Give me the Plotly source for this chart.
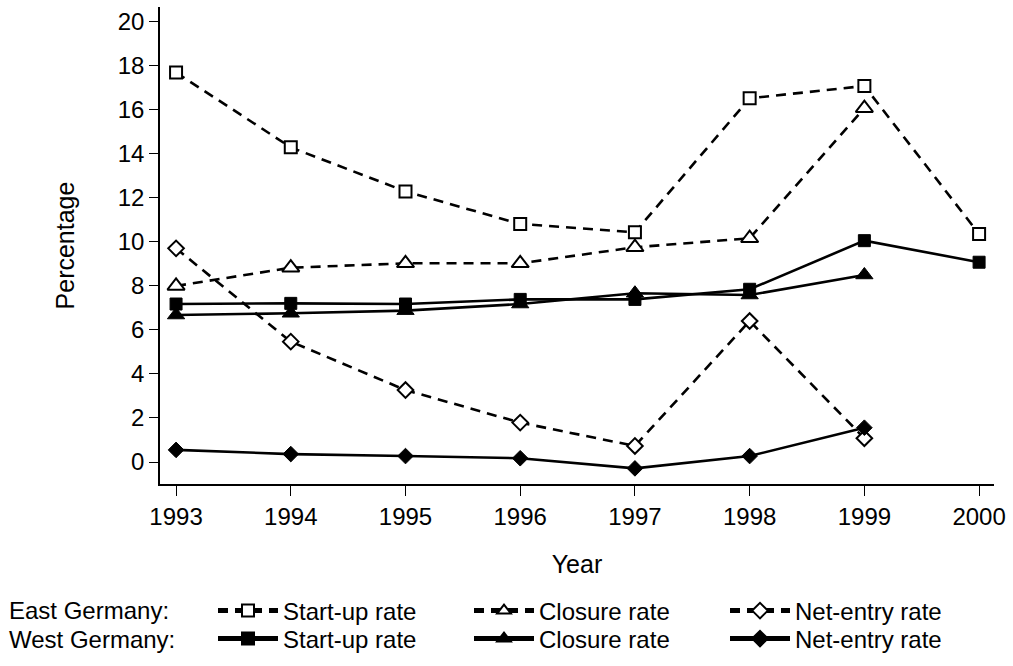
import plotly.graph_objects as go

years = [1993, 1994, 1995, 1996, 1997, 1998, 1999, 2000]

east_startup = [17.7, 14.3, 12.3, 10.82, 10.44, 16.53, 17.09, 10.36]
east_closure = [8.0, 8.83, 9.03, 9.03, 9.76, 10.17, 16.08, None]
east_netentry = [9.71, 5.47, 3.27, 1.79, 0.73, 6.41, 1.08, None]

west_startup = [7.18, 7.21, 7.18, 7.39, 7.39, 7.85, 10.06, 9.08]
west_closure = [6.68, 6.76, 6.88, 7.18, 7.67, 7.59, 8.5, None]
west_netentry = [0.55, 0.36, 0.27, 0.17, -0.29, 0.27, 1.56, None]

y_ticks = [0, 2, 4, 6, 8, 10, 12, 14, 16, 18, 20]

FONT = "Liberation Sans, Arial, sans-serif"
DASH = "10px,7px"
LW = 2.6

fig = go.Figure()

def add(y, name, symbol, size, hollow, legend):
    fig.add_trace(go.Scatter(
        x=years, y=y, name=name, mode="lines+markers",
        line=dict(color="black", width=LW, dash=DASH if hollow else "solid"),
        marker=dict(symbol=symbol, size=size,
                    color="white" if hollow else "black",
                    line=dict(color="black", width=2 if hollow else 1)),
        legend=legend, connectgaps=False,
    ))

add(east_startup, "Start-up rate", "square", 12, True, "legend")
add(east_closure, "Closure rate", "triangle-up", 15, True, "legend")
add(east_netentry, "Net-entry rate", "diamond", 12, True, "legend")
add(west_startup, "Start-up rate", "square", 12, False, "legend2")
add(west_closure, "Closure rate", "triangle-up", 15, False, "legend2")
add(west_netentry, "Net-entry rate", "diamond", 12, False, "legend2")

LEG_FONT = 24
ROW1_Y = 611
ROW2_Y = 639

legend_common = dict(
    orientation="h", xref="container", yref="container",
    xanchor="left", yanchor="middle",
    font=dict(family=FONT, size=LEG_FONT, color="black"),
    itemsizing="constant", itemwidth=60, entrywidth=181,
    bgcolor="rgba(0,0,0,0)", borderwidth=0, tracegroupgap=0,
    itemclick=False, itemdoubleclick=False,
)

fig.update_layout(
    width=1013, height=666,
    margin=dict(l=160, r=15, t=7, b=182),
    paper_bgcolor="white", plot_bgcolor="white",
    font=dict(family=FONT, size=24, color="black"),
    showlegend=True,
    legend=dict(x=213 / 1013, y=(666 - ROW1_Y) / 666, **legend_common),
    legend2=dict(x=213 / 1013, y=(666 - ROW2_Y) / 666, **legend_common),
    xaxis=dict(
        range=[1992.86, 2000.13], tickmode="array", tickvals=years,
        ticktext=[str(y) for y in years],
        showgrid=False, zeroline=False, showline=True, linecolor="black", linewidth=1.5,
        ticks="outside", ticklen=10, tickwidth=1, tickcolor="black",
        tickfont=dict(family=FONT, size=24),
        title=dict(text="Year", font=dict(family=FONT, size=25), standoff=27),
    ),
    yaxis=dict(
        range=[-1.0, 20.68], tickmode="array", tickvals=y_ticks,
        ticktext=[str(v) for v in y_ticks],
        showgrid=False, zeroline=False, showline=True, linecolor="black", linewidth=1.5,
        ticks="outside", ticklen=9, tickwidth=1, tickcolor="black",
        tickfont=dict(family=FONT, size=24),
        title=dict(text="Percentage", font=dict(family=FONT, size=25), standoff=36),
    ),
    annotations=[
        dict(text="East Germany:", xref="paper", yref="paper", showarrow=False,
             x=-154 / 838, y=-(ROW1_Y - 484) / 477, xanchor="left", yanchor="middle",
             font=dict(family=FONT, size=LEG_FONT)),
        dict(text="West Germany:", xref="paper", yref="paper", showarrow=False,
             x=-154 / 838, y=-(ROW2_Y - 484) / 477, xanchor="left", yanchor="middle",
             font=dict(family=FONT, size=LEG_FONT)),
    ],
)

fig.write_html(
    "out.html",
    config={"displayModeBar": False},
    post_script="document.body.style.margin='0';document.body.style.padding='0';",
)
